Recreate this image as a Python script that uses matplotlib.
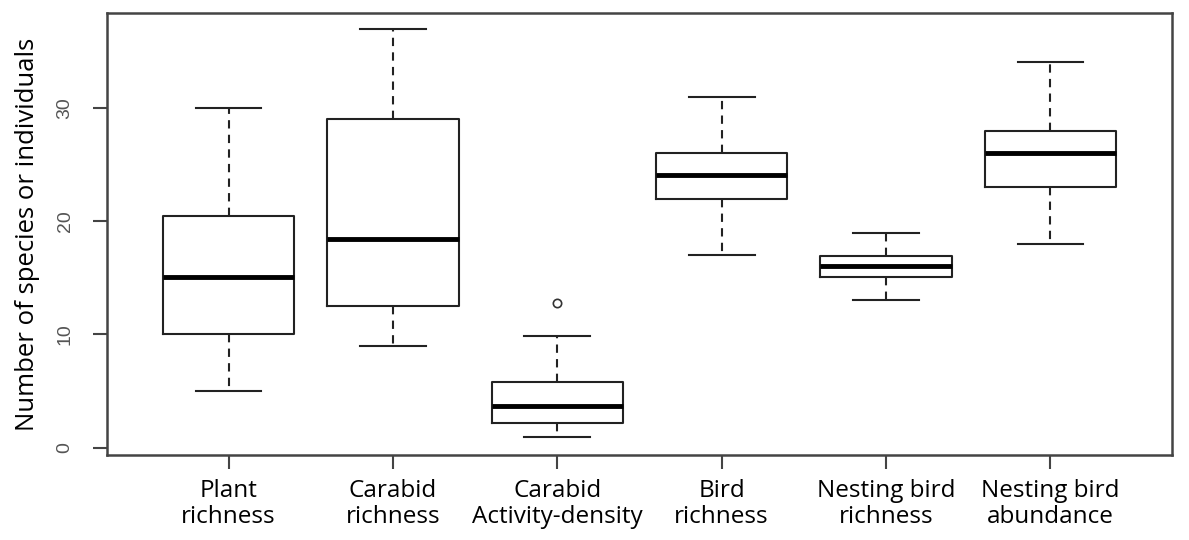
import numpy as np
import matplotlib
matplotlib.use('Agg')
import matplotlib.pyplot as plt

# box statistics (R style boxplot)
labels = ['Plant\nrichness', 'Carabid\nrichness', 'Carabid\nActivity-density',
          'Bird\nrichness', 'Nesting bird\nrichness', 'Nesting bird\nabundance']
whislo = [5.0, 9.0, 0.9, 17.0, 13.0, 18.0]
q1 = [10.0, 12.55, 2.15, 22.0, 15.07, 23.0]
med = [15.07, 18.45, 3.66, 24.05, 16.04, 26.03]
q3 = [20.5, 29.0, 5.8, 26.06, 16.95, 27.95]
whishi = [30.0, 36.95, 9.85, 31.0, 19.0, 34.05]
fliers = [[], [], [12.77], [], [], []]

stats = []
for i in range(len(labels)):
    stats.append(dict(whislo=whislo[i], q1=q1[i], med=med[i], q3=q3[i],
                      whishi=whishi[i], fliers=fliers[i]))

label_font = ['Open Sans', 'DejaVu Sans']

fig = plt.figure(figsize=(11.89, 5.4), dpi=100)
ax = fig.add_axes([107 / 1189, 1 - 455 / 540, (1172 - 107) / 1189, (455 - 13) / 540])

ax.bxp(stats, positions=np.arange(1, 7), widths=0.8, patch_artist=False,
       boxprops=dict(color='#222222', linewidth=1.5),
       medianprops=dict(color='black', linewidth=3.5, solid_capstyle='butt'),
       whiskerprops=dict(color='#222222', linewidth=1.5, linestyle=(0, (4, 3))),
       capprops=dict(color='#222222', linewidth=1.5),
       capwidths=0.4,
       flierprops=dict(marker='o', markersize=6, markerfacecolor='none',
                       markeredgecolor='#333333', markeredgewidth=1.2))

ax.set_xlim(0.26, 6.74)
ax.set_ylim(-0.65, 38.4)

for s in ax.spines.values():
    s.set_color('#444444')
    s.set_linewidth(1.8)

ax.set_yticks([0, 10, 20, 30])
ax.set_yticklabels(['0', '10', '20', '30'], rotation=90, va='center',
                   color='#555555', fontsize=14, family='Liberation Sans')
ax.tick_params(axis='y', length=10, width=1.5, color='#444444', pad=14)

ax.set_xticks(np.arange(1, 7))
ax.set_xticklabels(labels, fontsize=17.5, family=label_font, linespacing=1.12)
ax.tick_params(axis='x', length=10, width=1.5, color='#444444', pad=7)

ax.set_ylabel('Number of species or individuals', fontsize=18.5, family=label_font)
ax.yaxis.set_label_coords(-0.063, 0.5)

fig.savefig('out.png', dpi=100)
